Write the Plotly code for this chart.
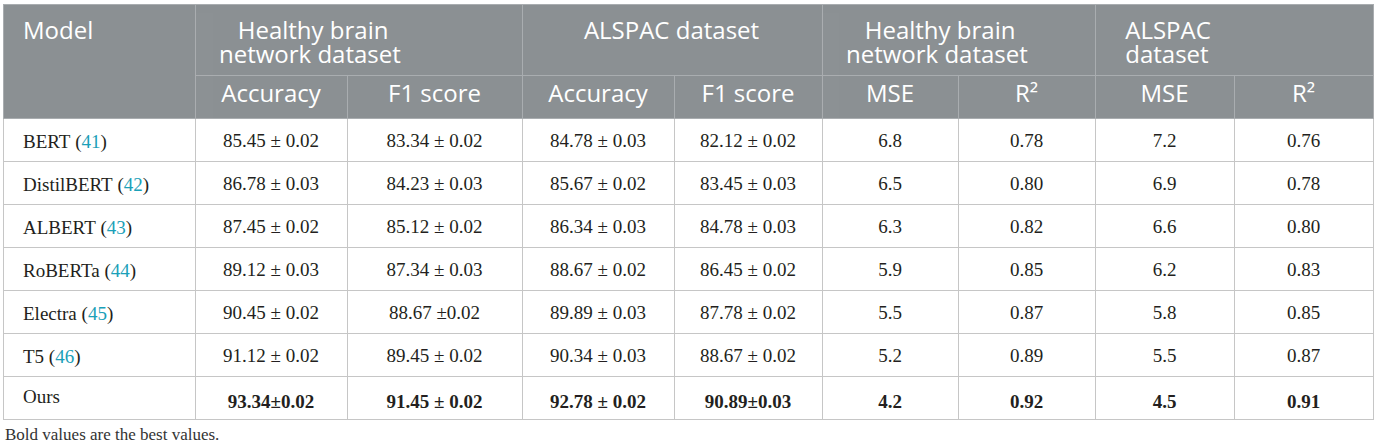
import plotly.graph_objects as go

W, H = 1375, 448

# ---- table content ----
models = ["BERT", "DistilBERT", "ALBERT", "RoBERTa", "Electra", "T5", "Ours"]
refs = ["41", "42", "43", "44", "45", "46", None]
group_line1 = ["Healthy brain", "ALSPAC dataset", "Healthy brain", "ALSPAC"]
group_line2 = ["network dataset", "", "network dataset", "dataset"]
metrics = ["Accuracy", "F1 score", "Accuracy", "F1 score",
           "MSE", "R²", "MSE", "R²"]

hbn_acc = ["85.45 ± 0.02", "86.78 ± 0.03", "87.45 ± 0.02", "89.12 ± 0.03",
           "90.45 ± 0.02", "91.12 ± 0.02", "93.34±0.02"]
hbn_f1 = ["83.34 ± 0.02", "84.23 ± 0.03", "85.12 ± 0.02", "87.34 ± 0.03",
          "88.67 ±0.02", "89.45 ± 0.02", "91.45 ± 0.02"]
alspac_acc = ["84.78 ± 0.03", "85.67 ± 0.02", "86.34 ± 0.03", "88.67 ± 0.02",
              "89.89 ± 0.03", "90.34 ± 0.03", "92.78 ± 0.02"]
alspac_f1 = ["82.12 ± 0.02", "83.45 ± 0.03", "84.78 ± 0.03", "86.45 ± 0.02",
             "87.78 ± 0.02", "88.67 ± 0.02", "90.89±0.03"]
hbn_mse = ["6.8", "6.5", "6.3", "5.9", "5.5", "5.2", "4.2"]
hbn_r2 = ["0.78", "0.80", "0.82", "0.85", "0.87", "0.89", "0.92"]
alspac_mse = ["7.2", "6.9", "6.6", "6.2", "5.8", "5.5", "4.5"]
alspac_r2 = ["0.76", "0.78", "0.80", "0.83", "0.85", "0.87", "0.91"]
best_row = "Ours"

footnote = "Bold values are the best values."

# ---- layout (pixels from the page's top-left corner) ----
X0, X_MODEL, X1 = 3, 195, 1373
SUB_W = [152, 175, 152, 148, 136, 137, 139, 139]
GROUP_W = [sum(SUB_W[i:i + 2]) for i in range(0, 8, 2)]
Y_TOP, H_ROW1, H_ROW2, H_CELL = 4, 71, 43, 43
Y_ROW2 = Y_TOP + H_ROW1
TEXT_PAD = 8          # plotly's own cell padding
GROUP_PAD = 24        # left inset of the two-line group titles
INDENT1 = [3, 0, 3, 1]  # nbsp used to centre the first title line
INDENT2 = [0, 0, 0, 1]
CENTRED_GROUP = 1     # the one-line title sits centred over its group

HEAD_BG = "#8b9093"
HEAD_LINE = "#a9adb0"
CELL_LINE = "#c6c6c6"
CITE = "#1aa0b8"
TEXT = "#231f20"
CLEAR = "rgba(0,0,0,0)"
SANS = "Open Sans, Lato, sans-serif"
SERIF = "Liberation Serif, Times New Roman, serif"
HEAD_FONT = dict(family=SANS, size=24, color="white")
CELL_FONT = dict(family=SERIF, size=19, color=TEXT)
NONE_LINE = dict(color=CLEAR, width=0)


def dx(left, right):
    return [left / W, right / W]


def dy(top):
    return [0, 1 - top / H]


def empty(n):
    return [[] for _ in range(n)]


def bold_if_best(values):
    return [f"<b>{v}</b>" if m == best_row else v for v, m in zip(values, models)]


model_cells = []
for m, r in zip(models, refs):
    if r:
        model_cells.append(f"{m}\u00a0(<span style='color:{CITE}'>{r}</span>)")
    else:
        model_cells.append(m)

columns = [hbn_acc, hbn_f1, alspac_acc, alspac_f1,
           hbn_mse, hbn_r2, alspac_mse, alspac_r2]
data_cells = [bold_if_best(c) for c in columns]

line1, line2 = [], []
for i, (t1, t2) in enumerate(zip(group_line1, group_line2)):
    if i == CENTRED_GROUP:
        t1 = t2 = ""
    line1.append("\u00a0" * INDENT1[i] + t1)
    line2.append("\u00a0" * INDENT2[i] + t2)

fig = go.Figure()

# grid layer: fills and rules only
fig.add_trace(go.Table(
    domain=dict(x=dx(X0, X_MODEL), y=dy(Y_TOP)),
    header=dict(values=[""], height=H_ROW1 + H_ROW2, fill_color=HEAD_BG,
                line=dict(color=HEAD_LINE, width=1)),
    cells=dict(values=[[""] * len(models)], height=H_CELL, fill_color="white",
               line=dict(color=CELL_LINE, width=1)),
))
fig.add_trace(go.Table(
    domain=dict(x=dx(X_MODEL, X1), y=dy(Y_TOP)),
    columnwidth=GROUP_W,
    header=dict(values=[""] * 4, height=H_ROW1, fill_color=HEAD_BG,
                line=dict(color=HEAD_LINE, width=1)),
    cells=dict(values=empty(4), fill_color="white"),
))
fig.add_trace(go.Table(
    domain=dict(x=dx(X_MODEL, X1), y=dy(Y_ROW2)),
    columnwidth=SUB_W,
    header=dict(values=[""] * 8, height=H_ROW2, fill_color=HEAD_BG,
                line=dict(color=HEAD_LINE, width=1)),
    cells=dict(values=[[""] * len(models) for _ in range(8)], height=H_CELL,
               fill_color="white", line=dict(color=CELL_LINE, width=1)),
))

# text layer: transparent tables nudged so the text sits where it should
fig.add_trace(go.Table(  # "Model"
    domain=dict(x=dx(X0 + 12, X_MODEL), y=dy(Y_TOP + 9)),
    header=dict(values=["Model"], height=40, align="left", fill_color=CLEAR,
                line=NONE_LINE, font=HEAD_FONT),
    cells=dict(values=empty(1), fill_color=CLEAR, line=NONE_LINE),
))
fig.add_trace(go.Table(  # model names (wide so the markup is never wrapped)
    domain=dict(x=dx(X0 + 12, 700), y=dy(Y_TOP + 5)),
    header=dict(values=[""], height=H_ROW1 + H_ROW2, fill_color=CLEAR,
                line=NONE_LINE),
    cells=dict(values=[model_cells], height=H_CELL, align="left",
               fill_color=CLEAR, line=NONE_LINE, font=CELL_FONT),
))
gx = X_MODEL + GROUP_PAD - TEXT_PAD
gw = GROUP_W[:3] + [GROUP_W[3] - (GROUP_PAD - TEXT_PAD)]
for top, vals in [(Y_TOP + 9, line1), (Y_TOP + 33, line2)]:
    fig.add_trace(go.Table(  # two-line group titles, one line per table
        domain=dict(x=dx(gx, X1), y=dy(top)),
        columnwidth=gw,
        header=dict(values=vals, height=40, align="left", fill_color=CLEAR,
                    line=NONE_LINE, font=HEAD_FONT),
        cells=dict(values=empty(4), fill_color=CLEAR, line=NONE_LINE),
    ))
c_left = X_MODEL + sum(GROUP_W[:CENTRED_GROUP])
fig.add_trace(go.Table(  # one-line group title
    domain=dict(x=dx(c_left, c_left + GROUP_W[CENTRED_GROUP]), y=dy(Y_TOP + 9)),
    header=dict(values=[group_line1[CENTRED_GROUP]], height=40, align="center",
                fill_color=CLEAR, line=NONE_LINE, font=HEAD_FONT),
    cells=dict(values=empty(1), fill_color=CLEAR, line=NONE_LINE),
))
fig.add_trace(go.Table(  # metric names
    domain=dict(x=dx(X_MODEL, X1), y=dy(Y_ROW2 + 1)),
    columnwidth=SUB_W,
    header=dict(values=metrics, height=H_ROW2, align="center",
                fill_color=CLEAR, line=NONE_LINE, font=HEAD_FONT),
    cells=dict(values=empty(8), fill_color=CLEAR, line=NONE_LINE),
))
fig.add_trace(go.Table(  # values
    domain=dict(x=dx(X_MODEL, X1), y=dy(Y_ROW2 + 7)),
    columnwidth=SUB_W,
    header=dict(values=[""] * 8, height=H_ROW2, fill_color=CLEAR,
                line=NONE_LINE),
    cells=dict(values=data_cells, height=H_CELL, align="center",
               fill_color=CLEAR, line=NONE_LINE, font=CELL_FONT),
))

fig.add_annotation(
    text=footnote, xref="paper", yref="paper",
    x=X0 / W, y=1 - 434 / H, xanchor="left", yanchor="middle",
    showarrow=False, font=dict(family=SERIF, size=17, color="#333333"),
)

fig.update_layout(
    width=W, height=H,
    margin=dict(l=0, r=0, t=0, b=0),
    paper_bgcolor="white",
)

# drop the browser's default body margin so the page starts at 0,0
fig.write_html("out.html", config={"displayModeBar": False},
               post_script="document.body.style.margin='0';")
